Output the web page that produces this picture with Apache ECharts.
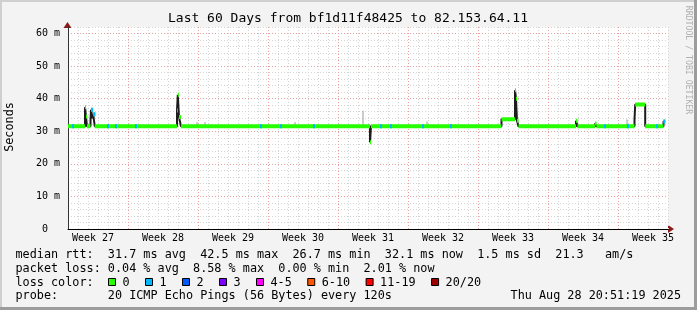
<!DOCTYPE html>
<html>
<head>
<meta charset="utf-8">
<script src="https://cdn.jsdelivr.net/npm/echarts@6/dist/echarts.min.js"></script>
<style>
  html, body { margin: 0; padding: 0; background: #f3f3f3; }
  #chart { width: 697px; height: 310px; }
</style>
</head>
<body>
<div id="chart"></div>
<script>
// median rtt as steps: from medianDays[i] on the value is medianValues[i] (ms)
const medianDays = [0, 1.7, 1.8, 1.9, 2.25, 2.3, 2.45, 2.52, 2.68,
  10.9, 10.98, 11.1, 11.3, 30.2, 30.3, 43.35, 44.7, 44.8, 44.9, 45.05,
  50.8, 50.95, 52.7, 52.85, 56.65, 56.72, 57.72, 59.55];
const medianValues = [31.5, 37.4, 34.5, 31.5, 33.0, 36.6, 34.0, 35.2, 31.5,
  36.4, 41.2, 34.4, 31.5, 26.6, 31.5, 33.7, 42.6, 40.0, 33.2, 31.5,
  33.2, 31.5, 32.4, 31.5, 33.5, 38.2, 31.5, 33.0];
const endDay = 59.7;

// samples with lost pings (out of 20)
const lossDays = [0.4, 2.32, 2.55, 3.9, 4.7, 6.7, 19.2, 21.2, 24.5, 31.2, 32.2, 35.4, 38.2, 53.6, 55.9, 58.8, 59.55];
const lossCounts = [1, 1, 1, 1, 1, 1, 1, 1, 1, 1, 1, 1, 1, 1, 1, 1, 1];

// single smoke outliers above the median
const smokeDays = [12.9, 13.7, 22.7, 29.5, 35.9, 55.9];
const smokeTops = [32.8, 32.8, 32.8, 36.3, 33.0, 33.6];

const weekLabels = ['Week 27', 'Week 28', 'Week 29', 'Week 30', 'Week 31', 'Week 32', 'Week 33', 'Week 34', 'Week 35'];
const lossLegend = ['0', '1', '2', '3', '4-5', '6-10', '11-19', '20/20'];
const lossColors = ['#26ff00', '#00b8ff', '#0059ff', '#7e00ff', '#ff00ff', '#ff5500', '#ff0000', '#a10000'];

function medianAt(d) {
  let v = medianValues[0];
  for (let i = 0; i < medianDays.length; i++) {
    if (medianDays[i] <= d) v = medianValues[i];
  }
  return v;
}
function lossColor(n) {
  if (n <= 3) return lossColors[n];
  if (n <= 5) return lossColors[4];
  if (n <= 10) return lossColors[5];
  if (n <= 19) return lossColors[6];
  return lossColors[7];
}

const stepLine = medianDays.map((d, i) => [d, medianValues[i]]);
stepLine.push([endDay, medianValues[medianValues.length - 1]]);

const greenSegs = [];
medianDays.forEach((d, i) => {
  const next = i + 1 < medianDays.length ? medianDays[i + 1] : endDay;
  greenSegs.push([d, medianValues[i]], [next, medianValues[i]], [next, '-']);
});

const smokeSegs = [];
smokeDays.forEach((d, i) => {
  smokeSegs.push([d, medianAt(d)], [d, smokeTops[i]], [d, '-']);
});

const lossSeries = [];
const byColor = {};
lossDays.forEach((d, i) => {
  const c = lossColor(lossCounts[i]);
  const v = medianAt(d);
  (byColor[c] = byColor[c] || []).push([d, v], [d + 0.2, v], [d + 0.2, '-']);
});
Object.keys(byColor).forEach(c => {
  lossSeries.push({
    type: 'line', xAxisIndex: 0, yAxisIndex: 1, data: byColor[c],
    showSymbol: false, connectNulls: false, silent: true, animation: false,
    lineStyle: { color: c, width: 4, cap: 'butt' }, z: 5
  });
});

const dayCats = [];
for (let i = 0; i <= 60; i++) dayCats.push('d' + i);
const halfCats = [];
const weekMap = {};
for (let i = 0; i <= 120; i++) halfCats.push('h' + i);
weekLabels.forEach((w, k) => { weekMap['h' + (5 + 14 * k)] = w; });

const mono = 'DejaVu Sans Mono';
const legendFont = '11.8px "DejaVu Sans Mono"';
const graphics = [
  { type: 'rect', shape: { x: 0, y: 0, width: 697, height: 2 }, style: { fill: '#cfcfcf' } },
  { type: 'rect', shape: { x: 0, y: 0, width: 2, height: 310 }, style: { fill: '#cfcfcf' } },
  { type: 'rect', shape: { x: 694, y: 0, width: 3, height: 310 }, style: { fill: '#9c9c9c' } },
  { type: 'rect', shape: { x: 0, y: 307, width: 697, height: 3 }, style: { fill: '#9c9c9c' } },
  { type: 'polygon', shape: { points: [[63.5, 28], [71.5, 28], [67.5, 22]] }, style: { fill: '#8b1a1a' } },
  { type: 'polygon', shape: { points: [[668, 225], [668, 233], [674, 229]] }, style: { fill: '#8b1a1a' } },
  { type: 'text', x: 348, y: 19, style: { text: 'Last 60 Days from bf1d11f48425 to 82.153.64.11', font: '13px "DejaVu Sans Mono"', fill: '#000', textAlign: 'center', verticalAlign: 'middle', textVerticalAlign: 'middle' } },
  { type: 'text', x: 10, y: 127, rotation: Math.PI / 2, style: { text: 'Seconds', font: legendFont, fill: '#000', textAlign: 'center', verticalAlign: 'middle', textVerticalAlign: 'middle' } },
  { type: 'text', x: 688, y: 60, rotation: -Math.PI / 2, style: { text: 'RRDTOOL / TOBI OETIKER', font: '8.2px "DejaVu Sans Mono"', fill: '#b0b0b0', textAlign: 'center', verticalAlign: 'middle', textVerticalAlign: 'middle' } }
];
const rows = [
  ['median rtt:  31.7 ms avg  42.5 ms max  26.7 ms min  32.1 ms now  1.5 ms sd  21.3   am/s', 254.5],
  ['packet loss: 0.04 % avg  8.58 % max  0.00 % min  2.01 % now', 268.5],
  ['loss color:', 282.5],
  ['probe:       20 ICMP Echo Pings (56 Bytes) every 120s', 296]
];
rows.forEach(r => {
  graphics.push({ type: 'text', x: 15.5, y: r[1], style: { text: r[0], font: legendFont, fill: '#000', verticalAlign: 'middle', textVerticalAlign: 'middle' } });
});
graphics.push({ type: 'text', x: 681, y: 296, style: { text: 'Thu Aug 28 20:51:19 2025', font: legendFont, fill: '#000', textAlign: 'right', verticalAlign: 'middle', textVerticalAlign: 'middle' } });
let bx = 108.5;
lossLegend.forEach((lab, i) => {
  graphics.push({ type: 'rect', shape: { x: bx, y: 278.5, width: 7, height: 7 }, style: { fill: lossColors[i], stroke: '#000', lineWidth: 1 } });
  graphics.push({ type: 'text', x: bx + 14, y: 282.5, style: { text: lab, font: legendFont, fill: '#000', verticalAlign: 'middle', textVerticalAlign: 'middle' } });
  bx += 37 + 7.12 * (lab.length - 1);
});

const chart = echarts.init(document.getElementById('chart'));
chart.setOption({
  backgroundColor: '#f3f3f3',
  animation: false,
  grid: { left: 68, top: 27, width: 600, height: 202, show: true, backgroundColor: '#ffffff', borderWidth: 0 },
  xAxis: [
    { type: 'value', min: 0, max: 60, show: false },
    {
      type: 'category', data: dayCats, boundaryGap: false, position: 'bottom',
      axisLine: { show: false }, axisTick: { show: false }, axisLabel: { show: false },
      splitLine: { show: true, interval: 0, lineStyle: { color: '#d4d4d4', width: 1, type: [1, 2] } }
    },
    {
      type: 'category', data: halfCats, boundaryGap: false, position: 'bottom',
      axisLine: { show: true, onZero: false, lineStyle: { color: '#000', width: 1 } },
      axisTick: { show: false },
      axisLabel: {
        interval: (idx) => idx % 14 === 5,
        formatter: (v) => weekMap[v] || '',
        fontFamily: mono, fontSize: 10, color: '#000', margin: 4
      },
      splitLine: { show: true, interval: (idx) => idx % 14 === 12, lineStyle: { color: '#eaa0a0', width: 1, type: [1, 2] } }
    }
  ],
  yAxis: [
    {
      type: 'value', min: 0, max: 62, interval: 2, position: 'left',
      axisLine: { show: false }, axisTick: { show: false }, axisLabel: { show: false },
      splitLine: { show: true, lineStyle: { color: '#d4d4d4', width: 1, type: [1, 2] } }
    },
    {
      type: 'value', min: 0, max: 62, interval: 10, position: 'left',
      axisLine: { show: true, lineStyle: { color: '#333', width: 1 } },
      axisTick: { show: false },
      axisLabel: {
        formatter: (v) => (v % 10 !== 0 ? '' : (v === 0 ? '0\u00a0\u00a0' : v + ' m')),
        fontFamily: mono, fontSize: 10, color: '#000', margin: 8
      },
      splitLine: { show: true, showMinLine: false, showMaxLine: false, lineStyle: { color: '#eaa0a0', width: 1, type: [1, 2] } }
    }
  ],
  graphic: graphics,
  series: [
    {
      type: 'line', xAxisIndex: 0, yAxisIndex: 1, data: smokeSegs, showSymbol: false,
      connectNulls: false, silent: true, lineStyle: { color: '#999999', width: 1 }, z: 2
    },
    {
      type: 'line', xAxisIndex: 0, yAxisIndex: 1, data: stepLine, step: 'end', showSymbol: false,
      silent: true, lineStyle: { color: '#1c1c1c', width: 2 }, z: 3
    },
    {
      type: 'line', xAxisIndex: 0, yAxisIndex: 1, data: greenSegs, showSymbol: false,
      connectNulls: false, silent: true, lineStyle: { color: lossColors[0], width: 4, cap: 'butt' }, z: 4
    }
  ].concat(lossSeries)
});
</script>
</body>
</html>
